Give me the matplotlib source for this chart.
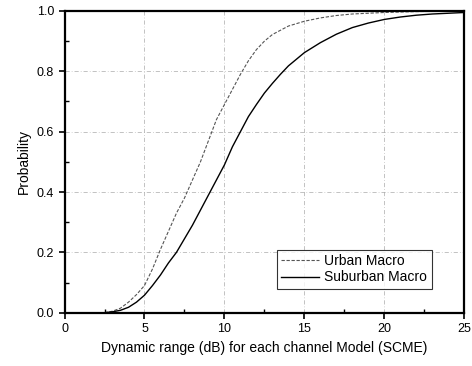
import matplotlib
matplotlib.use("Agg")
import matplotlib.pyplot as plt
from matplotlib.ticker import MultipleLocator

plt.rcParams['font.family'] = ['Liberation Sans', 'DejaVu Sans']

# левая кривая (пунктир)
x_urban = [0, 2.5, 3, 3.5, 4, 4.5, 5, 5.5, 6, 6.5, 7, 7.5, 8, 8.5, 9, 9.5,
           10, 10.5, 11, 11.5, 12, 12.5, 13, 14, 15, 16, 17, 18, 20, 22, 25]
p_urban = [0, 0, 0.005, 0.015, 0.035, 0.06, 0.09, 0.145, 0.21, 0.27, 0.33,
           0.38, 0.44, 0.50, 0.57, 0.64, 0.69, 0.74, 0.79, 0.835, 0.872, 0.9,
           0.922, 0.95, 0.966, 0.977, 0.985, 0.99, 0.995, 0.998, 1.0]

# правая кривая (сплошная)
x_sub = [0, 2.5, 3, 3.5, 4, 4.5, 5, 5.5, 6, 6.5, 7, 7.5, 8, 8.5, 9, 9.5, 10,
         10.5, 11, 11.5, 12, 12.5, 13, 13.5, 14, 15, 16, 17, 18, 19, 20, 21,
         22, 23, 25]
p_sub = [0, 0, 0.003, 0.008, 0.018, 0.035, 0.058, 0.09, 0.125, 0.165, 0.2,
         0.245, 0.29, 0.34, 0.39, 0.44, 0.49, 0.55, 0.6, 0.65, 0.69, 0.728,
         0.76, 0.79, 0.818, 0.862, 0.895, 0.923, 0.945, 0.96, 0.972, 0.98,
         0.986, 0.99, 0.995]

x_ticks = [0, 5, 10, 15, 20, 25]
y_ticks = [0.0, 0.2, 0.4, 0.6, 0.8, 1.0]

fig = plt.figure(figsize=(4.72, 3.66), dpi=100)
ax = fig.add_axes([0.1367, 0.1456, 0.847, 0.8244])

ax.plot(x_urban, p_urban, color="#555555", linestyle=(0, (3, 1.5)),
        linewidth=0.8, label="Urban Macro")
ax.plot(x_sub, p_sub, color="black", linewidth=1.0, label="Suburban Macro")

ax.set_xlim(0, 25)
ax.set_ylim(0, 1.0)
ax.set_xticks(x_ticks)
ax.set_xticklabels([str(t) for t in x_ticks])
ax.set_yticks(y_ticks)
ax.set_yticklabels([f"{t:.1f}" for t in y_ticks])
ax.xaxis.set_minor_locator(MultipleLocator(2.5))
ax.yaxis.set_minor_locator(MultipleLocator(0.1))

ax.grid(True, which="major", color="#aaaaaa", linestyle=(0, (6, 3, 1, 3)),
        linewidth=0.5)
ax.tick_params(which="major", direction="out", length=4, width=1.2,
               labelsize=9)
ax.tick_params(which="minor", direction="in", length=3, width=1)
for sp in ax.spines.values():
    sp.set_linewidth(1.6)

ax.set_xlabel("Dynamic range (dB) for each channel Model (SCME)", fontsize=10)
ax.set_ylabel("Probability", fontsize=10)

leg = ax.legend(loc="lower right", bbox_to_anchor=(0.918, 0.08), fontsize=10,
                frameon=True, fancybox=False, edgecolor="black",
                handlelength=2.7, borderpad=0.3, labelspacing=0.15,
                handletextpad=0.4, borderaxespad=0)
leg.get_frame().set_linewidth(0.8)

fig.savefig("out.png", dpi=100)
